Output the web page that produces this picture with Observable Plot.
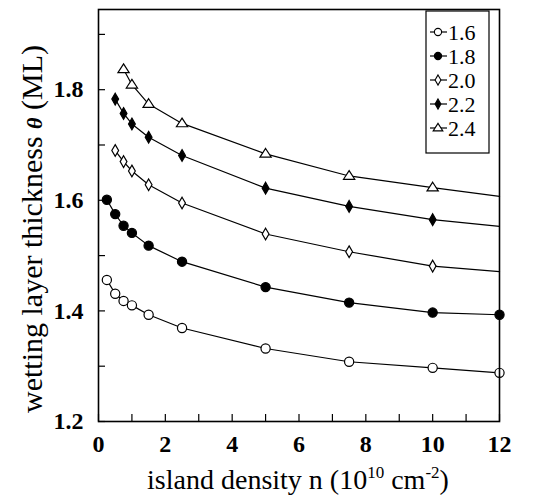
<!DOCTYPE html>
<html>
<head>
<meta charset="utf-8">
<script src="https://cdn.jsdelivr.net/npm/d3@7"></script>
<script src="https://cdn.jsdelivr.net/npm/@observablehq/plot@0.6"></script>
<style>
  html, body { margin: 0; padding: 0; background: white; }
  #chart { width: 538px; height: 503px; }
  #chart svg text { font-family: "Liberation Serif", "Times New Roman", serif; }
</style>
</head>
<body>
<div id="chart"></div>
<script>
// ---- data ----
const seriesNames = ["1.6", "1.8", "2.0", "2.2", "2.4"];
const x16 = [0.25, 0.5, 0.75, 1, 1.5, 2.5, 5, 7.5, 10, 12];
const y16 = [1.456, 1.431, 1.418, 1.410, 1.393, 1.369, 1.332, 1.308, 1.297, 1.288];
const x18 = [0.25, 0.5, 0.75, 1, 1.5, 2.5, 5, 7.5, 10, 12];
const y18 = [1.601, 1.575, 1.554, 1.541, 1.518, 1.489, 1.443, 1.415, 1.397, 1.393];
const x20 = [0.5, 0.75, 1, 1.5, 2.5, 5, 7.5, 10];
const y20 = [1.690, 1.670, 1.653, 1.628, 1.595, 1.539, 1.507, 1.481];
const x22 = [0.5, 0.75, 1, 1.5, 2.5, 5, 7.5, 10];
const y22 = [1.783, 1.757, 1.738, 1.714, 1.681, 1.622, 1.589, 1.565];
const x24 = [0.75, 1, 1.5, 2.5, 5, 7.5, 10];
const y24 = [1.837, 1.809, 1.774, 1.739, 1.684, 1.644, 1.623];
// fitted curve continues to the right edge (no marker there)
const lineEndX = [null, null, 12, 12, 12];
const lineEndY = [null, null, 1.471, 1.553, 1.607];

const xTickLabels = [0, 2, 4, 6, 8, 10, 12];
const xTicks = [0, 1, 2, 3, 4, 5, 6, 7, 8, 9, 10, 11, 12];
const yTickLabels = [1.2, 1.4, 1.6, 1.8];
const yTicks = [1.2, 1.3, 1.4, 1.5, 1.6, 1.7, 1.8, 1.9];

// ---- build tables ----
const xs = [x16, x18, x20, x22, x24];
const ys = [y16, y18, y20, y22, y24];
const points = [];
const linePts = [];
seriesNames.forEach((s, k) => {
  xs[k].forEach((x, i) => {
    points.push({series: s, x, y: ys[k][i]});
    linePts.push({series: s, x, y: ys[k][i]});
  });
  if (lineEndX[k] != null) linePts.push({series: s, x: lineEndX[k], y: lineEndY[k]});
});

const SERIF = "Liberation Serif, Times New Roman, serif";

// custom narrow diamond and flat triangle
const narrowDiamond = {
  draw(ctx, size) {
    const h = Math.sqrt(size) * 0.6, w = h * 0.58;
    ctx.moveTo(0, -h); ctx.lineTo(w, 0); ctx.lineTo(0, h); ctx.lineTo(-w, 0); ctx.closePath();
  }
};
const tri = {
  draw(ctx, size) {
    const s = Math.sqrt(size) * 0.55;
    ctx.moveTo(0, -s); ctx.lineTo(s * 1.05, s * 0.62); ctx.lineTo(-s * 1.05, s * 0.62); ctx.closePath();
  }
};
const styleOf = {
  "1.6": {symbol: d3.symbolCircle, fill: "white", r: 4.6},
  "1.8": {symbol: d3.symbolCircle, fill: "black", r: 4.6},
  "2.0": {symbol: narrowDiamond, fill: "white", r: 5.5},
  "2.2": {symbol: narrowDiamond, fill: "black", r: 5.5},
  "2.4": {symbol: tri, fill: "white", r: 5.5}
};

const dotMarks = seriesNames.map(s => Plot.dot(points.filter(d => d.series === s), {
  x: "x", y: "y", symbol: styleOf[s].symbol, r: styleOf[s].r,
  fill: styleOf[s].fill, stroke: "black", strokeWidth: 1.2
}));

const chart = Plot.plot({
  width: 538,
  height: 503,
  marginLeft: 98,
  marginRight: 39,
  marginTop: 9,
  marginBottom: 82,
  style: `font-family: ${SERIF}; background: white; color: black; overflow: visible;`,
  x: {domain: [0, 12]},
  y: {domain: [1.2, 1.945]},
  marks: [
    Plot.axisX(xTicks, {tickSize: -7, tickPadding: 0, text: null, label: null, strokeWidth: 1.2}),
    Plot.axisX(xTickLabels, {tickSize: 0, tickPadding: 13, label: null, fontSize: 24, fontWeight: "bold", fontFamily: SERIF}),
    Plot.axisY(yTicks, {tickSize: -7, tickPadding: 0, text: null, label: null, strokeWidth: 1.2}),
    Plot.axisY(yTickLabels, {tickSize: 0, tickPadding: 15, label: null, fontSize: 24, fontWeight: "bold", fontFamily: SERIF, tickFormat: d => d.toFixed(1)}),
    Plot.line(linePts, {x: "x", y: "y", z: "series", curve: "linear", stroke: "black", strokeWidth: 1.2}),
    ...dotMarks,
    Plot.frame({stroke: "black", strokeWidth: 1.6})
  ]
});
document.getElementById("chart").appendChild(chart);

// ---- labels and legend ----
const svg = d3.select(chart);
const xl = svg.append("text")
  .attr("x", 298).attr("y", 489)
  .attr("text-anchor", "middle")
  .style("font-family", SERIF)
  .style("font-size", "28px")
  .attr("fill", "black");
xl.append("tspan").text("island density n (10");
xl.append("tspan").text("10").attr("font-size", "17px").attr("dy", -11);
xl.append("tspan").text(" cm").attr("dy", 11);
xl.append("tspan").text("-2").attr("font-size", "17px").attr("dy", -11);
xl.append("tspan").text(")").attr("dy", 11);

const yl = svg.append("text")
  .attr("transform", "translate(42,229) rotate(-90)")
  .attr("text-anchor", "middle")
  .style("font-family", SERIF)
  .style("font-size", "30px")
  .attr("fill", "black");
yl.append("tspan").text("wetting layer thickness ");
yl.append("tspan").text("θ").attr("font-weight", "bold").attr("font-style", "italic").attr("font-size", "22px");
yl.append("tspan").text(" (ML)");

const lg = svg.append("g");
lg.append("rect").attr("x", 426).attr("y", 11).attr("width", 63).attr("height", 142)
  .attr("fill", "white").attr("stroke", "black").attr("stroke-width", 1.2);
seriesNames.forEach((s, i) => {
  const cy = 32 + i * 24;
  lg.append("line").attr("x1", 430).attr("x2", 447).attr("y1", cy).attr("y2", cy)
    .attr("stroke", "black").attr("stroke-width", 1.2);
  const st = styleOf[s];
  const size = st.symbol === d3.symbolCircle ? Math.PI * 3.6 * 3.6 : 4.2 * 4.2 * 4;
  lg.append("path").attr("d", d3.symbol(st.symbol, size)())
    .attr("transform", `translate(438,${cy})`)
    .attr("fill", st.fill).attr("stroke", "black").attr("stroke-width", 1.1);
  lg.append("text").attr("x", 448).attr("y", cy).attr("dy", "0.35em")
    .attr("text-anchor", "start")
    .style("font-family", SERIF).style("font-size", "22px")
    .attr("fill", "black").text(s);
});
</script>
</body>
</html>
